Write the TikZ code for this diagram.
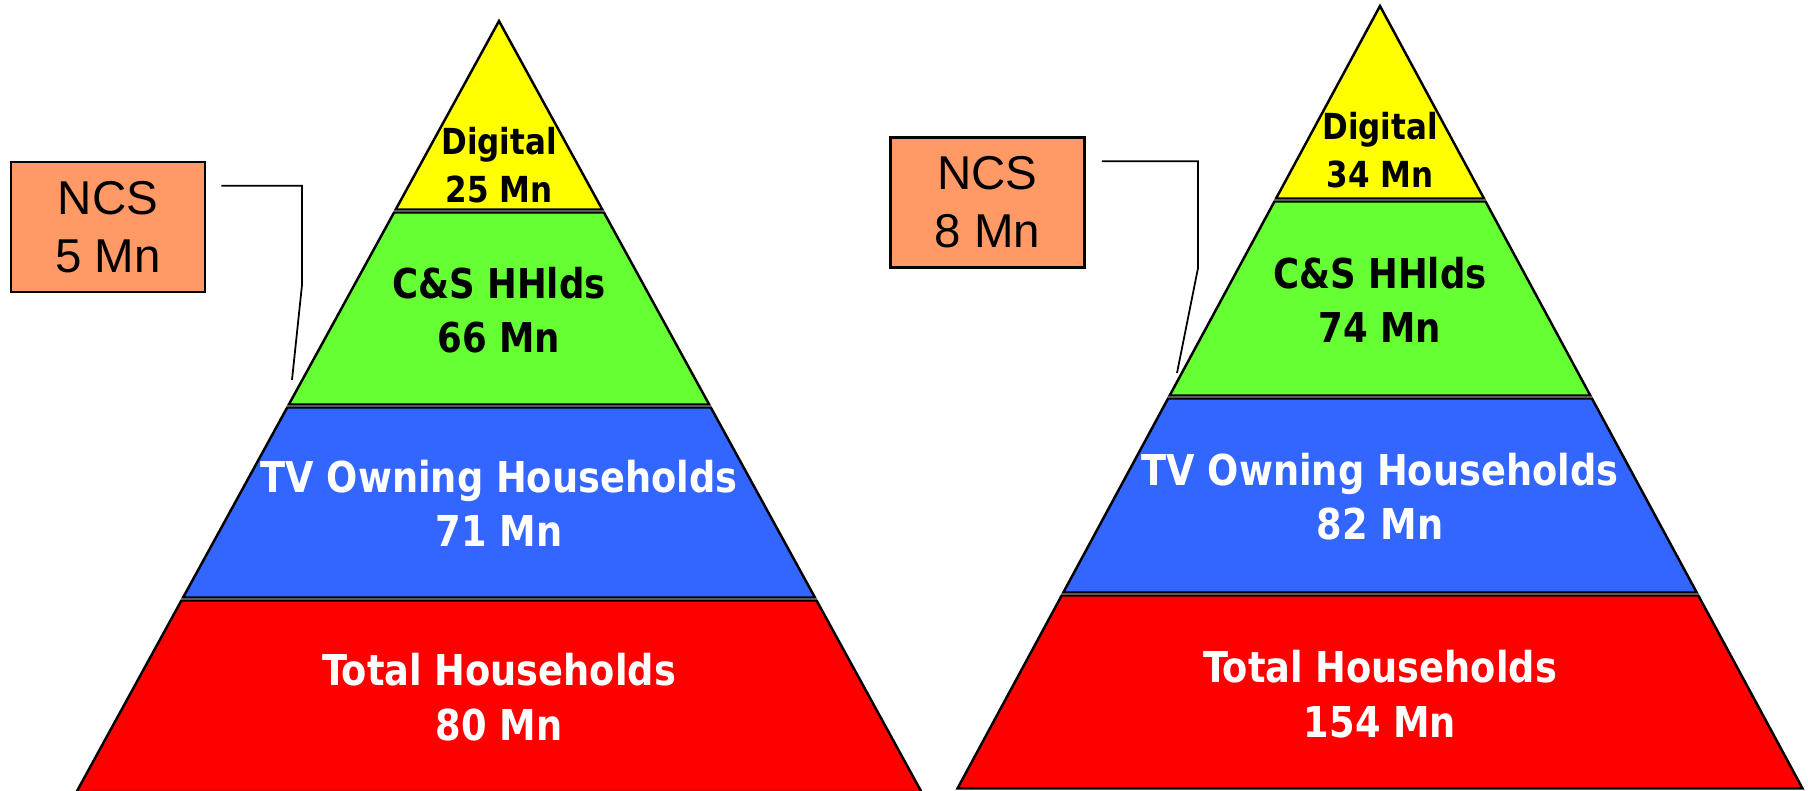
\documentclass[tikz,border=0pt]{standalone}
\usepackage{fontspec}
\usepackage{tikz}
\usetikzlibrary{calc}

\newfontfamily\pyrfont{DejaVu Sans Condensed Bold}[FakeStretch=0.96]
\newfontfamily\ncsfont{Liberation Sans}

\definecolor{digyellow}{HTML}{FFFF00}
\definecolor{csgreen}{HTML}{66FF33}
\definecolor{tvblue}{HTML}{3366FF}
\definecolor{totred}{HTML}{FF0000}
\definecolor{ncsorange}{HTML}{FF9966}

% one band of a pyramid, apex at the origin of the scope
\newcommand{\pyrlayer}[4]{%
  \draw[layer, fill=#1] ({-(#2)*(#4)},#2) -- ({(#2)*(#4)},#2) -- ({(#3)*(#4)},#3) -- ({-(#3)*(#4)},#3) -- cycle;
}

\tikzset{
  layer/.style={draw=black, line width=0.7pt},
  darktext/.style={anchor=base, align=center, text=black, inner sep=0pt},
  lighttext/.style={anchor=base, align=center, text=white, inner sep=0pt},
  digfont/.style={font=\pyrfont\fontsize{10.2}{13.9}\selectfont},
  csfont/.style={font=\pyrfont\fontsize{11.7}{15.6}\selectfont},
  bigfont/.style={font=\pyrfont\fontsize{12.1}{15.4}\selectfont},
  ncsbox/.style={draw=black, line width=0.7pt, fill=ncsorange, align=center,
    minimum width=1.94cm, minimum height=1.3cm, inner sep=0pt,
    font=\ncsfont\fontsize{13.5}{16.5}\selectfont},
  leader/.style={draw=black, line width=0.5pt},
}

\begin{document}
\begin{tikzpicture}[x=0.01cm, y=-0.01cm]
  \useasboundingbox (0,0) rectangle (1808,791);

  % left pyramid
  \begin{scope}[shift={(499,21)}]
    \draw[layer, fill=digyellow] (0,0) -- ({188.5*0.548},188.5) -- ({-188.5*0.548},188.5) -- cycle;
    \pyrlayer{csgreen}{191.5}{383.5}{0.548}
    \pyrlayer{tvblue}{386.5}{576.5}{0.548}
    \pyrlayer{totred}{579.5}{771}{0.548}
    \node[darktext, digfont] (digL) at (0,182) {Digital\\25 Mn};
    \node[darktext, csfont] (csL) at (0,332) {C\&S HHlds\\66 Mn};
    \node[lighttext, bigfont] (tvL) at (0,526) {TV Owning Households\\71 Mn};
    \node[lighttext, bigfont] (totL) at (0,719) {Total Households\\80 Mn};
  \end{scope}

  % right pyramid
  \begin{scope}[shift={(1380,6)}]
    \draw[layer, fill=digyellow] (0,0) -- ({192.5*0.540},192.5) -- ({-192.5*0.540},192.5) -- cycle;
    \pyrlayer{csgreen}{195.5}{389.5}{0.540}
    \pyrlayer{tvblue}{392.5}{586.5}{0.540}
    \pyrlayer{totred}{589.5}{782.5}{0.540}
    \node[darktext, digfont] (digR) at (0,182) {Digital\\34 Mn};
    \node[darktext, csfont] (csR) at (0,337) {C\&S HHlds\\74 Mn};
    \node[lighttext, bigfont] (tvR) at (0,534) {TV Owning Households\\82 Mn};
    \node[lighttext, bigfont] (totR) at (0,731) {Total Households\\154 Mn};
  \end{scope}

  % NCS call-outs
  \node[ncsbox] (ncsL) at (108,227) {NCS\\5 Mn};
  \node[ncsbox] (ncsR) at (987.5,202.5) {NCS\\8 Mn};

  \coordinate (bendL) at (302,285);
  \coordinate (tipL) at (292,380);
  \coordinate (bendR) at (1198,268);
  \coordinate (tipR) at (1177,373);

  \draw[leader] ($(ncsL.north east)+(15,25)$) -| (bendL) -- (tipL);
  \draw[leader] ($(ncsR.north east)+(16,25)$) -| (bendR) -- (tipR);
\end{tikzpicture}
\end{document}
